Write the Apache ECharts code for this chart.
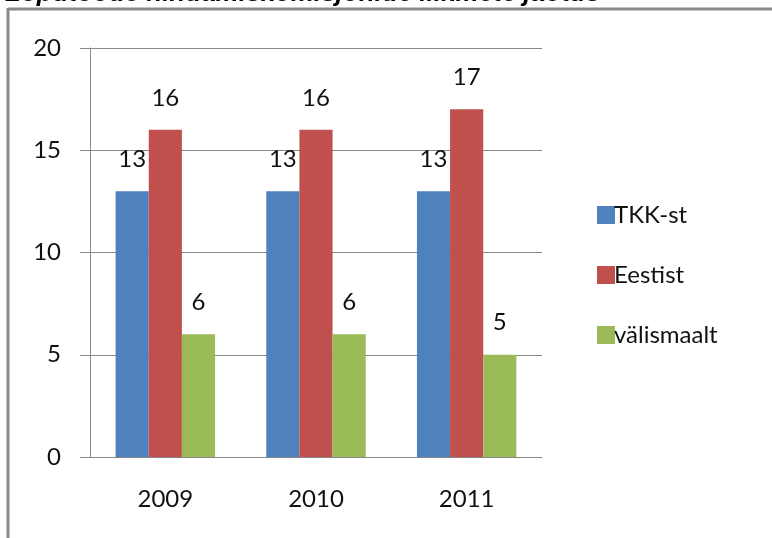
<!DOCTYPE html>
<html>
<head>
<meta charset="utf-8">
<script src="https://cdn.jsdelivr.net/npm/echarts@6/dist/echarts.min.js"></script>
<style>
  html, body { margin: 0; padding: 0; background: #fff; }
  #chart { width: 772px; height: 538px; }
</style>
</head>
<body>
<div id="chart"></div>
<script>
const years = ['2009', '2010', '2011']
const tkkSt = [13, 13, 13]
const eestist = [16, 16, 17]
const valismaalt = [6, 6, 5]
const seriesNames = ['TKK-st', 'Eestist', 'välismaalt']
const colors = ['#4F81BD', '#C0504D', '#9BBB59']

const font = 'Lato, "Open Sans", sans-serif'
const myChart = echarts.init(document.getElementById('chart'))

const labelOpt = {
  show: true,
  position: 'top',
  distance: 20,
  color: '#111',
  fontSize: 24,
  fontFamily: font
}

myChart.setOption({
  animation: false,
  title: {
    text: 'Lõputööde hindamiskomisjonide liikmete jaotus',
    left: 0,
    top: -24,
    textStyle: {
      fontFamily: 'Arial, "Liberation Sans", sans-serif',
      fontSize: 26,
      fontWeight: 'bold',
      fontStyle: 'italic',
      color: '#000'
    }
  },
  graphic: [
    { type: 'line', shape: { x1: 8, y1: 9, x2: 772, y2: 9 }, style: { stroke: '#8a8a8a', lineWidth: 3 }, z: 100 },
    { type: 'line', shape: { x1: 8, y1: 8, x2: 8, y2: 538 }, style: { stroke: '#8a8a8a', lineWidth: 3 }, z: 100 }
  ],
  legend: {
    orient: 'vertical',
    left: 592,
    top: 198,
    itemWidth: 18,
    itemHeight: 18,
    itemGap: 36,
    icon: 'rect',
    textStyle: { fontSize: 24, fontFamily: font, color: '#111', padding: [0, 0, 0, -6] },
    data: seriesNames
  },
  grid: { left: 90, right: 230, top: 48, bottom: 81 },
  xAxis: {
    type: 'category',
    data: years,
    axisLine: { lineStyle: { color: '#888' } },
    axisTick: { length: 12, lineStyle: { color: '#888' } },
    axisLabel: { fontSize: 24, fontFamily: font, color: '#111', margin: 30 }
  },
  yAxis: {
    type: 'value',
    min: 0,
    max: 20,
    interval: 5,
    axisLine: { show: true, lineStyle: { color: '#888' } },
    axisTick: { show: true, length: 10, lineStyle: { color: '#888' } },
    splitLine: { lineStyle: { color: '#888' } },
    axisLabel: { fontSize: 24, fontFamily: font, color: '#111', margin: 29 }
  },
  series: [
    { name: seriesNames[0], type: 'bar', data: tkkSt, barGap: 0, barCategoryGap: '34%', itemStyle: { color: colors[0] }, label: labelOpt },
    { name: seriesNames[1], type: 'bar', data: eestist, barGap: 0, barCategoryGap: '34%', itemStyle: { color: colors[1] }, label: labelOpt },
    { name: seriesNames[2], type: 'bar', data: valismaalt, barGap: 0, barCategoryGap: '34%', itemStyle: { color: colors[2] }, label: labelOpt }
  ]
})
</script>
</body>
</html>
